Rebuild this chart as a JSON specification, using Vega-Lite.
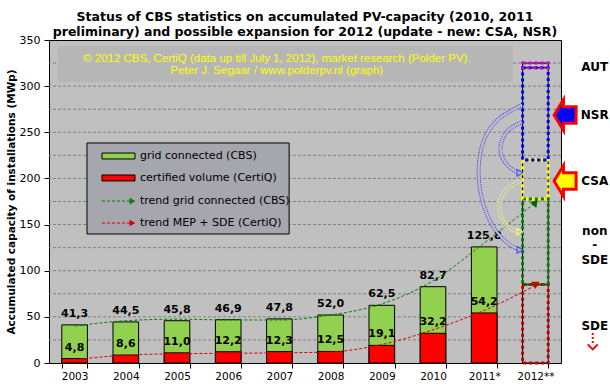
{
"$schema":"https://vega.github.io/schema/vega-lite/v6.json",
"width":512,"height":323,
"autosize":{"type":"none"},
"padding":{"left":49,"top":40,"right":49,"bottom":27},
"background":"#FFFFFF",
"title":{"text":["Status of CBS statistics on accumulated  PV-capacity (2010, 2011","preliminary) and possible expansion for 2012 (update - new: CSA, NSR)"],"font":"DejaVu Sans","fontSize":12.5,"fontWeight":"bold","color":"#000000","anchor":"middle","offset":-4,"lineHeight":15},
"config":{
 "font":"DejaVu Sans",
 "locale":{"number":{"decimal":",","thousands":".","grouping":[3],"currency":["","\u00a0€"]}},
 "view":{"fill":"#C0C0C0","stroke":"#000000","strokeWidth":1},
 "axis":{"domainColor":"#000000","tickColor":"#000000","labelColor":"#000000","titleColor":"#000000","labelFont":"DejaVu Sans","titleFont":"DejaVu Sans"}
},
"datasets":{
 "bars":[
  {"year":"2003","cbs":41.3,"certiq":4.8},
  {"year":"2004","cbs":44.5,"certiq":8.6},
  {"year":"2005","cbs":45.8,"certiq":11.0},
  {"year":"2006","cbs":46.9,"certiq":12.2},
  {"year":"2007","cbs":47.8,"certiq":12.3},
  {"year":"2008","cbs":52.0,"certiq":12.5},
  {"year":"2009","cbs":62.5,"certiq":19.1},
  {"year":"2010","cbs":82.7,"certiq":32.2},
  {"year":"2011*","cbs":125.8,"certiq":54.2}
 ],
 "gridValues":[
  {"g":25},{"g":50},{"g":75},{"g":100},{"g":125},{"g":150},{"g":175},{"g":200},{"g":225},{"g":250},{"g":275},{"g":300},{"g":325}
 ],
 "boxes":[
  {"year":"2012**","seg":"SDE","lo":0,"hi":85},
  {"year":"2012**","seg":"non-SDE","lo":85,"hi":177.7},
  {"year":"2012**","seg":"CSA","lo":177.7,"hi":220},
  {"year":"2012**","seg":"NSR","lo":220,"hi":320},
  {"year":"2012**","seg":"AUT","lo":320,"hi":325}
 ],
 "trend":[
  {"series":"grid","year":"2003","v":40},
  {"series":"grid","year":"2004","v":45.8},
  {"series":"grid","year":"2005","v":47.5},
  {"series":"grid","year":"2006","v":46.6},
  {"series":"grid","year":"2007","v":46.6},
  {"series":"grid","year":"2008","v":52},
  {"series":"grid","year":"2009","v":64},
  {"series":"grid","year":"2010","v":89},
  {"series":"grid","year":"2011*","v":130},
  {"series":"grid","year":"2012**","v":174},
  {"series":"certiq","year":"2003","v":3.5},
  {"series":"certiq","year":"2004","v":8.5},
  {"series":"certiq","year":"2005","v":10},
  {"series":"certiq","year":"2006","v":10.5},
  {"series":"certiq","year":"2007","v":11},
  {"series":"certiq","year":"2008","v":12},
  {"series":"certiq","year":"2009","v":20},
  {"series":"certiq","year":"2010","v":36},
  {"series":"certiq","year":"2011*","v":57},
  {"series":"certiq","year":"2012**","v":84}
 ],
 "curves":[
  {"c":"blueOuter","i":0,"xq":9.24,"v":279.6},
  {"c":"blueOuter","i":1,"xq":8.75,"v":266},
  {"c":"blueOuter","i":2,"xq":8.45,"v":242},
  {"c":"blueOuter","i":3,"xq":8.36,"v":206},
  {"c":"blueOuter","i":4,"xq":8.46,"v":171},
  {"c":"blueOuter","i":5,"xq":8.71,"v":142},
  {"c":"blueOuter","i":6,"xq":9.0,"v":127},
  {"c":"blueOuter","i":7,"xq":9.2,"v":122.5},
  {"c":"blueInner","i":0,"xq":9.24,"v":261},
  {"c":"blueInner","i":1,"xq":8.92,"v":253},
  {"c":"blueInner","i":2,"xq":8.79,"v":234},
  {"c":"blueInner","i":3,"xq":8.85,"v":220},
  {"c":"blueInner","i":4,"xq":9.04,"v":209},
  {"c":"blueInner","i":5,"xq":9.2,"v":206},
  {"c":"yellow","i":0,"xq":9.24,"v":198.3},
  {"c":"yellow","i":1,"xq":8.91,"v":189.6},
  {"c":"yellow","i":2,"xq":8.75,"v":171.2},
  {"c":"yellow","i":3,"xq":8.85,"v":152.8},
  {"c":"yellow","i":4,"xq":9.04,"v":144},
  {"c":"yellow","i":5,"xq":9.2,"v":142}
 ],
 "heads":[
  {"c":"blueOuter","xq":9.2,"v":122.5},
  {"c":"blueInner","xq":9.2,"v":206},
  {"c":"yellow","xq":9.2,"v":142}
 ],
 "credits":[
  {"t":"© 2012 CBS, CertiQ (data up till July 1, 2012), market research (Polder PV).","v":329.95},
  {"t":"Peter J. Segaar / www.polderpv.nl (graph)","v":315.9}
 ],
 "legendBoxes":[
  {"label":"grid connected (CBS)","v":224.3},
  {"label":"certified volume (CertiQ)","v":200.5}
 ],
 "legendLines":[
  {"label":"trend grid connected (CBS)","v":175.5},
  {"label":"trend MEP + SDE (CertiQ)","v":151.7}
 ],
 "side":[
  {"t":"AUT","v":320.7},
  {"t":"NSR","v":268.7},
  {"t":"CSA","v":197.2},
  {"t":"non","v":143},
  {"t":"-","v":127.9},
  {"t":"SDE","v":111.6},
  {"t":"SDE","v":40.1}
 ],
 "sideArrows":[
  {"label":"NSR","v":268.7},
  {"label":"CSA","v":197.2}
 ]
},
"layer":[
 {
  "data":{"name":"gridValues"},
  "mark":{"type":"rule","stroke":"#808080","strokeDash":[3,2],"strokeWidth":1},
  "encoding":{"y":{"field":"g","type":"quantitative","scale":{"domain":[0,350],"nice":false},
    "axis":{"title":"Accumulated capacity of installations (MWp)","values":[0,25,50,75,100,125,150,175,200,225,250,275,300,325,350],"grid":false,"tickSize":5,"labelPadding":4,"labelFontSize":11,"titleFontSize":10.5,"titleFontWeight":"bold","titlePadding":3}}}
 },
 {
  "encoding":{"x":{"field":"year","type":"nominal","title":null,
    "scale":{"domain":["2003","2004","2005","2006","2007","2008","2009","2010","2011*","2012**"],"paddingInner":0.5,"paddingOuter":0.25},
    "axis":{"labelAngle":0,"tickBand":"extent","tickSize":5,"labelPadding":3,"labelFontSize":10.5,"grid":false}}},
  "layer":[
   {"data":{"name":"bars"},"mark":{"type":"bar","fill":"#92D050","stroke":"#000000","strokeWidth":1},
    "encoding":{"y":{"field":"cbs","type":"quantitative","scale":{"domain":[0,350],"nice":false}}}},
   {"data":{"name":"bars"},"mark":{"type":"bar","fill":"#FF0000","stroke":"#000000","strokeWidth":1},
    "encoding":{"y":{"field":"certiq","type":"quantitative","scale":{"domain":[0,350],"nice":false}}}},
   {"data":{"name":"bars"},"mark":{"type":"text","baseline":"bottom","dy":-6,"fontWeight":"bold","fontSize":11,"color":"#000000"},
    "encoding":{"y":{"field":"cbs","type":"quantitative","scale":{"domain":[0,350],"nice":false}},"text":{"field":"cbs","type":"quantitative","format":".1f"}}},
   {"data":{"name":"bars"},"mark":{"type":"text","baseline":"bottom","dy":-6,"fontWeight":"bold","fontSize":11,"color":"#000000"},
    "encoding":{"y":{"field":"certiq","type":"quantitative","scale":{"domain":[0,350],"nice":false}},"text":{"field":"certiq","type":"quantitative","format":".1f"}}},
   {"data":{"name":"boxes"},"mark":{"type":"bar","fillOpacity":0,"stroke":"#000000","strokeWidth":1},
    "encoding":{"y":{"field":"lo","type":"quantitative","scale":{"domain":[0,350],"nice":false}},"y2":{"field":"hi"}}},
   {"data":{"name":"boxes"},"mark":{"type":"bar","fillOpacity":0,"strokeWidth":3,"strokeDash":[3,3]},
    "encoding":{"y":{"field":"lo","type":"quantitative","scale":{"domain":[0,350],"nice":false}},"y2":{"field":"hi"},
     "stroke":{"field":"seg","type":"nominal","scale":{"domain":["SDE","non-SDE","CSA","NSR","AUT"],"range":["#C00000","#008000","#FFFF00","#0000FF","#CC00CC"]},"legend":null}}},
   {"data":{"name":"trend"},"mark":{"type":"line","interpolate":"monotone","strokeDash":[3,2],"strokeWidth":1},
    "encoding":{"y":{"field":"v","type":"quantitative","scale":{"domain":[0,350],"nice":false}},
     "stroke":{"field":"series","type":"nominal","scale":{"domain":["grid","certiq"],"range":["#008000","#DD0000"]},"legend":null}}},
   {"data":{"name":"trend"},"transform":[{"filter":"datum.year == '2012**' && datum.series == 'grid'"}],
    "mark":{"type":"point","shape":"triangle-up","filled":true,"color":"#006400","size":70,"angle":40,"opacity":1},
    "encoding":{"y":{"field":"v","type":"quantitative","scale":{"domain":[0,350],"nice":false}}}},
   {"data":{"name":"trend"},"transform":[{"filter":"datum.year == '2012**' && datum.series == 'certiq'"}],
    "mark":{"type":"point","shape":"triangle-down","filled":true,"color":"#CC0000","size":70,"opacity":1},
    "encoding":{"y":{"field":"v","type":"quantitative","scale":{"domain":[0,350],"nice":false}}}}
  ],
  "resolve":{"scale":{"stroke":"independent","fill":"independent","color":"independent"}}
 },
 {
  "layer":[
   {"data":{"values":[{}]},"mark":{"type":"rect","fill":"#B6B6B6"},
    "encoding":{"x":{"datum":0.18,"type":"quantitative","scale":{"domain":[0,10],"nice":false,"zero":false},"axis":null},"x2":{"datum":9.06},
     "y":{"datum":343.5,"type":"quantitative","scale":{"domain":[0,350],"nice":false}},"y2":{"datum":304.5}}},
   {"data":{"name":"credits"},"mark":{"type":"text","font":"Liberation Sans","fontSize":11.5,"color":"#FFFF00","align":"center","baseline":"middle"},
    "encoding":{"x":{"datum":4.45,"type":"quantitative","scale":{"domain":[0,10],"nice":false,"zero":false},"axis":null},
     "y":{"field":"v","type":"quantitative","scale":{"domain":[0,350],"nice":false}},"text":{"field":"t"}}},
   {"data":{"name":"curves"},"mark":{"type":"line","interpolate":"basis","strokeWidth":4,"strokeDash":[1,1]},
    "encoding":{"x":{"field":"xq","type":"quantitative","scale":{"domain":[0,10],"nice":false,"zero":false},"axis":null},
     "y":{"field":"v","type":"quantitative","scale":{"domain":[0,350],"nice":false}},
     "stroke":{"field":"c","type":"nominal","scale":{"domain":["blueOuter","blueInner","yellow"],"range":["#3C3CFF","#3C3CFF","#FFFF70"]},"legend":null},
     "order":{"field":"i"}}},
   {"data":{"name":"curves"},"mark":{"type":"line","interpolate":"basis","strokeWidth":2,"stroke":"#C0C0C0"},
    "encoding":{"x":{"field":"xq","type":"quantitative","scale":{"domain":[0,10],"nice":false,"zero":false},"axis":null},
     "y":{"field":"v","type":"quantitative","scale":{"domain":[0,350],"nice":false}},
     "detail":{"field":"c"},"order":{"field":"i"}}},
   {"data":{"name":"heads"},"mark":{"type":"point","shape":"triangle-right","filled":false,"size":50,"strokeWidth":1,"opacity":1},
    "encoding":{"x":{"field":"xq","type":"quantitative","scale":{"domain":[0,10],"nice":false,"zero":false},"axis":null},
     "y":{"field":"v","type":"quantitative","scale":{"domain":[0,350],"nice":false}},
     "stroke":{"field":"c","type":"nominal","scale":{"domain":["blueOuter","blueInner","yellow"],"range":["#3C3CFF","#3C3CFF","#FFFF70"]},"legend":null}}},
   {"data":{"values":[{}]},"mark":{"type":"rect","fill":"#A6A6AE","stroke":"#000000","strokeWidth":1},
    "encoding":{"x":{"datum":0.742,"type":"quantitative","scale":{"domain":[0,10],"nice":false,"zero":false},"axis":null},"x2":{"datum":4.69},
     "y":{"datum":238.4,"type":"quantitative","scale":{"domain":[0,350],"nice":false}},"y2":{"datum":139.8}}},
   {"data":{"name":"legendBoxes"},"mark":{"type":"point","shape":"M-1,-0.18H1V0.18H-1Z","size":1089,"filled":true,"stroke":"#000000","strokeWidth":1,"opacity":1},
    "encoding":{"x":{"datum":1.357,"type":"quantitative","scale":{"domain":[0,10],"nice":false,"zero":false},"axis":null},
     "y":{"field":"v","type":"quantitative","scale":{"domain":[0,350],"nice":false}},
     "fill":{"field":"label","type":"nominal","scale":{"domain":["grid connected (CBS)","certified volume (CertiQ)"],"range":["#92D050","#FF0000"]},"legend":null}}},
   {"data":{"name":"legendLines"},"mark":{"type":"rule","strokeDash":[3,2],"strokeWidth":1},
    "encoding":{"x":{"datum":1.035,"type":"quantitative","scale":{"domain":[0,10],"nice":false,"zero":false},"axis":null},"x2":{"datum":1.6},
     "y":{"field":"v","type":"quantitative","scale":{"domain":[0,350],"nice":false}},
     "stroke":{"field":"label","type":"nominal","scale":{"domain":["trend grid connected (CBS)","trend MEP + SDE (CertiQ)"],"range":["#008000","#DD0000"]},"legend":null}}},
   {"data":{"name":"legendLines"},"mark":{"type":"point","shape":"triangle-right","size":45,"filled":true,"opacity":1},
    "encoding":{"x":{"datum":1.63,"type":"quantitative","scale":{"domain":[0,10],"nice":false,"zero":false},"axis":null},
     "y":{"field":"v","type":"quantitative","scale":{"domain":[0,350],"nice":false}},
     "fill":{"field":"label","type":"nominal","scale":{"domain":["trend grid connected (CBS)","trend MEP + SDE (CertiQ)"],"range":["#008000","#DD0000"]},"legend":null}}},
   {"data":{"name":"legendBoxes"},"mark":{"type":"text","align":"left","baseline":"middle","fontSize":11,"color":"#000000"},
    "encoding":{"x":{"datum":1.777,"type":"quantitative","scale":{"domain":[0,10],"nice":false,"zero":false},"axis":null},
     "y":{"field":"v","type":"quantitative","scale":{"domain":[0,350],"nice":false}},"text":{"field":"label"}}},
   {"data":{"name":"legendLines"},"mark":{"type":"text","align":"left","baseline":"middle","fontSize":11,"color":"#000000"},
    "encoding":{"x":{"datum":1.777,"type":"quantitative","scale":{"domain":[0,10],"nice":false,"zero":false},"axis":null},
     "y":{"field":"v","type":"quantitative","scale":{"domain":[0,350],"nice":false}},"text":{"field":"label"}}},
   {"data":{"name":"sideArrows"},"mark":{"type":"point","shape":"M-1,0L-0.15,-1.4L-0.15,-0.75L1,-0.75L1,0.75L-0.15,0.75L-0.15,1.4Z","size":484,"filled":true,"stroke":"#FF0000","strokeWidth":3,"opacity":1},
    "encoding":{"x":{"datum":10.08,"type":"quantitative","scale":{"domain":[0,10],"nice":false,"zero":false},"axis":null},
     "y":{"field":"v","type":"quantitative","scale":{"domain":[0,350],"nice":false}},
     "fill":{"field":"label","type":"nominal","scale":{"domain":["NSR","CSA"],"range":["#0000FF","#FFFF00"]},"legend":null}}},
   {"data":{"name":"side"},"mark":{"type":"text","align":"center","baseline":"middle","fontSize":12,"fontWeight":"bold","color":"#000000"},
    "encoding":{"x":{"datum":10.66,"type":"quantitative","scale":{"domain":[0,10],"nice":false,"zero":false},"axis":null},
     "y":{"field":"v","type":"quantitative","scale":{"domain":[0,350],"nice":false}},"text":{"field":"t"}}},
   {"data":{"values":[{}]},"mark":{"type":"rule","stroke":"#FF0000","strokeWidth":2,"strokeDash":[2,2]},
    "encoding":{"x":{"datum":10.62,"type":"quantitative","scale":{"domain":[0,10],"nice":false,"zero":false},"axis":null},
     "y":{"datum":32.5,"type":"quantitative","scale":{"domain":[0,350],"nice":false}},"y2":{"datum":19.5}}},
   {"data":{"values":[{}]},"mark":{"type":"point","shape":"M-1,-0.5L0,0.5L1,-0.5","size":100,"filled":false,"stroke":"#FF0000","strokeWidth":2,"opacity":1},
    "encoding":{"x":{"datum":10.62,"type":"quantitative","scale":{"domain":[0,10],"nice":false,"zero":false},"axis":null},
     "y":{"datum":17.5,"type":"quantitative","scale":{"domain":[0,350],"nice":false}}}}
  ],
  "resolve":{"scale":{"stroke":"independent","fill":"independent","color":"independent"}}
 }
],
"resolve":{"scale":{"x":"independent","stroke":"independent","fill":"independent","color":"independent"}}
}
